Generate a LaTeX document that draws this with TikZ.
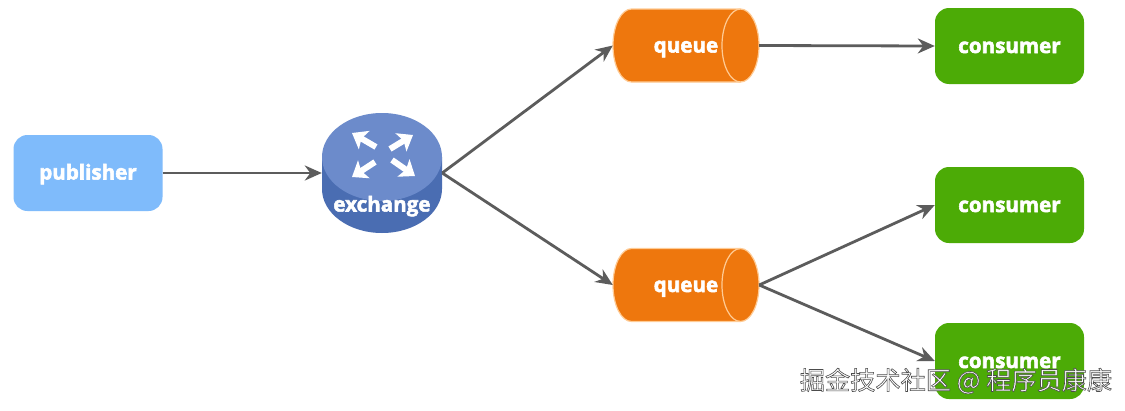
\documentclass[tikz,border=0pt]{standalone}
\usepackage{fontspec}
\setmainfont{Open Sans}
\newfontfamily\cjk{Noto Sans CJK SC}
\usetikzlibrary{arrows.meta}
\definecolor{pub}{HTML}{7FBBFB}
\definecolor{cons}{HTML}{4CAB06}
\definecolor{que}{HTML}{EE770D}
\definecolor{queedge}{HTML}{FFCB94}
\definecolor{extop}{HTML}{6C8BCB}
\definecolor{exside}{HTML}{4A6DB2}
\definecolor{wire}{HTML}{5C5C5C}
\newcommand{\heavy}[2]{\raisebox{#1}[0pt][0pt]{\special{pdf:code q 2 Tr 0.55 w 1 1 1 RG 1 1 1 rg}#2\special{pdf:code Q}}}
\tikzset{
  box/.style={rectangle,rounded corners=14pt,minimum width=149pt,minimum height=76pt,inner sep=0pt,text=white,font=\bfseries\fontsize{20.6}{24}\selectfont},
  pubbox/.style={box,fill=pub},
  consbox/.style={box,fill=cons},
  anchorbox/.style={rectangle,inner sep=0pt,text=white,font=\bfseries\fontsize{20.6}{24}\selectfont},
  wirearrow/.style={draw=wire,line width=2.8pt,-{Stealth[length=17pt,width=15pt]}},
  cross/.style={draw=white,line width=6pt,-{Stealth[length=14pt,width=21pt,inset=3pt]}},
}
\newcommand{\queueshape}[1]{%
  \fill[que,draw=queedge,line width=1.2pt] (631.5,#1-36.5) -- (740.5,#1-36.5)
    arc[start angle=90,end angle=-90,x radius=18.5,y radius=-36.5]
    -- (631.5,#1+36.5)
    arc[start angle=270,end angle=90,x radius=18.5,y radius=-36.5] -- cycle;
  \draw[queedge,line width=1.2pt] (740.5,#1-36.5)
    arc[start angle=90,end angle=270,x radius=18.5,y radius=-36.5];
}
\begin{document}
\begin{tikzpicture}[x=1pt,y=-1pt]
\useasboundingbox (0,0) rectangle (1125,410);
\fill[white] (0,0) rectangle (1125,410);
% exchange body
\fill[exside] (322,157) -- (322,189) arc[start angle=180,end angle=360,x radius=60,y radius=-44] -- (442,157) -- cycle;
\fill[extop] (382,157) ellipse[x radius=60,y radius=44];
\draw[cross] (376,147) -- (352,133);
\draw[cross] (390,149) -- (413,135);
\draw[cross] (375,162) -- (352,177);
\draw[cross] (392,160) -- (415,176);
% queues
\queueshape{45.5}
\queueshape{285}
% nodes
\node[pubbox] (publisher) at (88,173) {\heavy{-6.5pt}{publisher}};
\node[anchorbox,minimum width=120pt,minimum height=120pt] (exchange) at (382,173) {};
\node[anchorbox] (exlabel) at (382,204) {\heavy{-7.5pt}{exchange}};
\node[anchorbox,minimum width=146pt,minimum height=73pt] (queueA) at (686,45.5) {\heavy{-7pt}{queue}};
\node[anchorbox,minimum width=146pt,minimum height=73pt] (queueB) at (686,285) {\heavy{-7pt}{queue}};
\node[consbox] (consumerA) at (1009.5,46) {\heavy{-7pt}{consumer}};
\node[consbox] (consumerB) at (1009.5,205) {\heavy{-7pt}{consumer}};
\node[consbox] (consumerC) at (1009.5,361) {\heavy{-7pt}{consumer}};
% connectors
\draw[wirearrow] (publisher.east) -- (exchange.west);
\draw[wirearrow] (exchange.east) -- (queueA.west);
\draw[wirearrow] (exchange.east) -- (queueB.west);
\draw[wirearrow] (queueA.east) -- (consumerA.west);
\draw[wirearrow] (queueB.east) -- (consumerB.west);
\draw[wirearrow] (queueB.east) -- (consumerC.west);
% watermark
\node[inner sep=0pt,anchor=center] (mark) at (956,381) {\special{pdf:code q 2 Tr 0.6 w 0.3 0.3 0.3 RG 1 1 1 rg}\cjk\fontsize{25.2}{28}\selectfont 掘金技术社区 @ 程序员康康\special{pdf:code Q}};
\end{tikzpicture}
\end{document}
